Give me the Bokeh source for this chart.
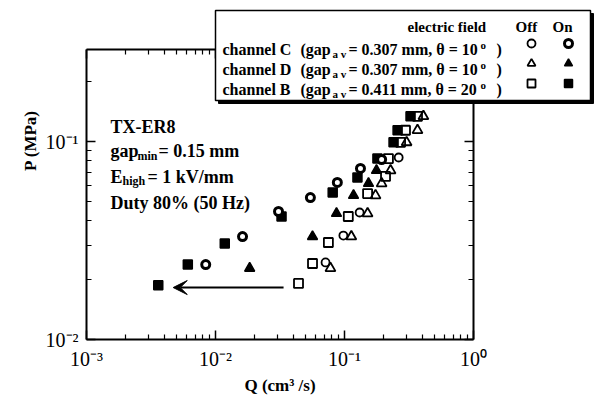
import math
from bokeh.plotting import figure
from bokeh.models import (LogAxis, Range1d, Label, BoxAnnotation, Arrow, VeeHead,
                          Legend, LegendItem, CustomJSTickFormatter, FixedTicker)
from bokeh.embed import file_html
from bokeh.resources import INLINE

# ---------------- data ----------------
# channel B (gap_av = 0.411 mm, theta = 20 deg)
b_on_q = [0.0036, 0.0061, 0.0118, 0.0325, 0.081, 0.126, 0.180, 0.240, 0.258, 0.325]
b_on_p = [0.0188, 0.0239, 0.0305, 0.0418, 0.0552, 0.0658, 0.082, 0.099, 0.114, 0.134]
b_off_q = [0.044, 0.0565, 0.075, 0.107, 0.151, 0.208, 0.219, 0.272, 0.297, 0.368]
b_off_p = [0.0192, 0.0242, 0.0309, 0.0418, 0.0546, 0.0666, 0.082, 0.099, 0.114, 0.134]
# channel C (gap_av = 0.307 mm, theta = 10 deg)
c_on_q = [0.0084, 0.0162, 0.0308, 0.0544, 0.088, 0.133, 0.194]
c_on_p = [0.0239, 0.0331, 0.0443, 0.0521, 0.0621, 0.0731, 0.0811]
c_off_q = [0.0713, 0.098, 0.131, 0.263]
c_off_p = [0.0245, 0.0335, 0.0438, 0.083]
# channel D (gap_av = 0.307 mm, theta = 10 deg)
d_on_q = [0.0184, 0.0565, 0.0867, 0.1175, 0.1535, 0.177]
d_on_p = [0.0229, 0.0331, 0.0433, 0.0534, 0.0614, 0.0714]
d_off_q = [0.0778, 0.113, 0.151, 0.174, 0.194, 0.2275, 0.303, 0.368, 0.409]
d_off_p = [0.0229, 0.0331, 0.0433, 0.0534, 0.0614, 0.0714, 0.099, 0.114, 0.134]
# arrow (flow-rate reduction)
arrow_q = [0.0337, 0.0047]
arrow_p = [0.0183, 0.0183]

x_lim = [1e-3, 1.0]
y_lim = [1e-2, 0.29]
x_major = [1e-3, 1e-2, 1e-1, 1.0]
y_major = [1e-2, 1e-1]

legend_rows = [("channel C", "0.307", "10"), ("channel D", "0.307", "10"), ("channel B", "0.411", "20")]
notes = ["TX-ER8", "gap", "min", "= 0.15 mm", "E", "high", "= 1 kV/mm", "Duty 80%  (50 Hz)"]

# ---------------- layout (page pixels) ----------------
W, H = 594, 399
PX_L, PX_R, PX_B = 86, 473, 339          # plot box edges on the page
SERIF = "Liberation Serif"

# the frame spans the whole page; axes are pinned to the plot box with fixed_location
lx0, lx1 = math.log10(x_lim[0]), math.log10(x_lim[1])
dec_x = (PX_R - PX_L) / (lx1 - lx0)
ly0 = math.log10(y_lim[0])
dec_y = 198.0
x_range = Range1d(10 ** (lx0 - PX_L / dec_x), 10 ** (lx1 + (W - PX_R) / dec_x))
y_range = Range1d(10 ** (ly0 - (H - PX_B) / dec_y), 10 ** (ly0 + PX_B / dec_y))

p = figure(width=W, height=H, x_axis_type="log", y_axis_type="log",
           x_range=x_range, y_range=y_range,
           output_backend="svg", toolbar_location=None,
           min_border=0, min_border_left=0, min_border_right=0, min_border_top=0, min_border_bottom=0)
p.background_fill_color = "white"
p.border_fill_color = "white"
p.xgrid.visible = False
p.ygrid.visible = False
p.outline_line_color = None

x_minor = [m * d for d in x_major[:-1] for m in range(2, 10)]
y_minor = [m * d for d in y_major for m in range(2, 10) if m * d <= y_lim[1]]
xt = FixedTicker(ticks=x_major, minor_ticks=x_minor)
yt = FixedTicker(ticks=y_major, minor_ticks=y_minor)

fmt = CustomJSTickFormatter(code="""
const e = Math.round(Math.log10(tick));
const sup = {'-':'\u207b','0':'\u2070','1':'\u00b9','2':'\u00b2','3':'\u00b3'};
return '10' + String(e).split('').map(c => sup[c]).join('');
""")
blank = CustomJSTickFormatter(code="return '';")

def style_axis(ax, labels=True):
    ax.axis_line_color = "black"
    ax.axis_line_width = 2
    ax.major_tick_in = 9
    ax.major_tick_out = 0
    ax.minor_tick_in = 5
    ax.minor_tick_out = 0
    ax.major_tick_line_width = 1.5
    ax.minor_tick_line_width = 1.2
    ax.major_tick_line_color = "black"
    ax.minor_tick_line_color = "black"
    ax.major_label_text_font = SERIF
    ax.major_label_text_font_size = "20px"
    ax.major_label_text_color = "black"
    if not labels:
        ax.major_label_text_font_size = "0px"

bx = p.xaxis[0]
by = p.yaxis[0]
bx.ticker = xt
by.ticker = yt
bx.formatter = fmt
by.formatter = fmt
style_axis(bx)
style_axis(by)
bx.fixed_location = y_lim[0]
bx.bounds = tuple(x_lim)
by.fixed_location = x_lim[0]
by.bounds = tuple(y_lim)
bx.major_label_standoff = 8
by.major_label_standoff = 8
bx.axis_label = "Q (cm\u00b3 /s)"
bx.axis_label_text_font = SERIF
bx.axis_label_text_font_style = "bold"
bx.axis_label_text_font_size = "17px"
bx.axis_label_text_color = "black"
bx.axis_label_standoff = 3

top = LogAxis(ticker=xt, formatter=blank, fixed_location=y_lim[1], bounds=tuple(x_lim))
style_axis(top, labels=False)
p.add_layout(top, "above")
right = LogAxis(ticker=yt, formatter=blank, fixed_location=x_lim[1], bounds=tuple(y_lim))
style_axis(right, labels=False)
p.add_layout(right, "right")

# ---------------- data markers ----------------
r_b_on = p.scatter(b_on_q, b_on_p, marker="square", size=9, fill_color="black", line_color="black", line_width=1.5)
r_b_off = p.scatter(b_off_q, b_off_p, marker="square", size=9, fill_color=None, line_color="black", line_width=1.8)
r_c_on = p.scatter(c_on_q, c_on_p, marker="circle", size=8, fill_color="white", line_color="black", line_width=3)
r_c_off = p.scatter(c_off_q, c_off_p, marker="circle", size=8, fill_color=None, line_color="black", line_width=1.8)
r_d_on = p.scatter(d_on_q, d_on_p, marker="triangle", size=10, fill_color="black", line_color="black", line_width=1.5)
r_d_off = p.scatter(d_off_q, d_off_p, marker="triangle", size=10, fill_color=None, line_color="black", line_width=1.8)

p.add_layout(Arrow(x_start=arrow_q[0], y_start=arrow_p[0], x_end=arrow_q[1], y_end=arrow_p[1],
                   line_width=2, line_color="black",
                   end=VeeHead(size=14, fill_color="black", line_color="black", line_width=1)))

def lab(text, px, py, size, bold=True, align="left", baseline="alphabetic", angle=0.0):
    p.add_layout(Label(x=px, y=H - py, x_units="screen", y_units="screen", text=text,
                       text_font=SERIF, text_font_size=f"{size}px",
                       text_font_style="bold" if bold else "normal", text_color="black",
                       text_align=align, text_baseline=baseline, angle=angle))

# y axis title
lab("P (MPa)", 30, 140, 17, align="center", baseline="middle", angle=math.pi / 2)

# annotation block
lab(notes[0], 110, 126, 18)
lab(notes[1], 110, 150, 18)
lab(notes[2], 137, 155, 12)
lab(notes[3], 158, 150, 18)
lab(notes[4], 110, 176, 18)
lab(notes[5], 122, 180, 12)
lab(notes[6], 147, 176, 18)
lab(notes[7], 110, 202, 18)

# ---------------- legend box ----------------
def box(l, r, t, b, **kw):
    p.add_layout(BoxAnnotation(left=l, right=r, top=H - t, bottom=H - b,
                               left_units="screen", right_units="screen",
                               top_units="screen", bottom_units="screen", **kw))

box(218, 593, 13, 103, fill_color="black", fill_alpha=1, line_color="black", line_alpha=1)
box(215, 590, 10, 100, fill_color="white", fill_alpha=1, line_color="black", line_width=1.5, line_alpha=1)

lab("electric field", 407, 26, 15)
lab("Off", 515, 26, 15)
lab("On", 552, 26, 15)
for i, (name, gap, ang) in enumerate(legend_rows):
    yb = 49 + 20 * i
    lab(name, 222, yb, 16)
    lab("(gap", 300, yb, 16)
    lab("a v", 332, yb + 4, 11)
    lab(f"= {gap} mm, \u03b8 = {ang}", 348, yb, 16)
    lab("o", 480, yb - 5, 11)
    lab(")", 496, yb, 16)

def marker_legend(renderers, px_left):
    leg = Legend(items=[LegendItem(label="", renderers=[r]) for r in renderers],
                 location=(px_left, H - 93), orientation="vertical",
                 glyph_width=20, glyph_height=20, label_width=0, label_height=20,
                 label_standoff=0, spacing=0, padding=0, margin=0,
                 border_line_alpha=0, background_fill_alpha=0, label_text_font_size="1px")
    p.add_layout(leg)

marker_legend([r_c_off, r_d_off, r_b_off], 521)
marker_legend([r_c_on, r_d_on, r_b_on], 558)

open("out.html", "w", encoding="utf-8").write(file_html(p, INLINE))
